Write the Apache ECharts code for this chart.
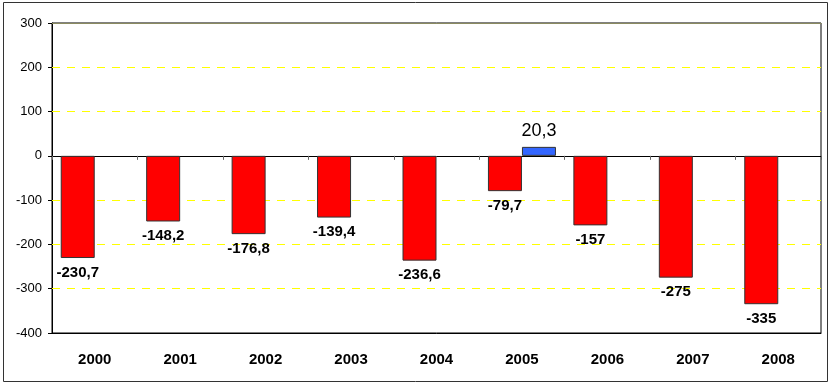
<!DOCTYPE html>
<html>
<head>
<meta charset="utf-8">
<script src="https://cdn.jsdelivr.net/npm/echarts@6/dist/echarts.min.js"></script>
<style>
html,body{margin:0;padding:0;background:#fff;}
#c{width:830px;height:384px;}
</style>
</head>
<body>
<div id="c"></div>
<script>
var categories = ['2000','2001','2002','2003','2004','2005','2006','2007','2008'];
var redValues = [-230.7, -148.2, -176.8, -139.4, -236.6, -79.7, -157, -275, -335];
var blueValues = [null, null, null, null, null, 20.3, null, null, null];
var yMin = -400, yMax = 300, yStep = 100;
var gridValues = [200, 100, -100, -200, -300];

var FONT = '"Liberation Sans", Arial, sans-serif';
function fmt(p){ return String(p.value).replace('.', ','); }

var chart = echarts.init(document.getElementById('c'), null, {renderer:'canvas'});
chart.setOption({
  animation: false,
  backgroundColor: '#fff',
  textStyle: {fontFamily: FONT},
  grid: {left: 52, right: 9, top: 23, bottom: 51, containLabel: false,
         show: true, borderColor: '#000', borderWidth: 1, backgroundColor: 'transparent'},
  graphic: [{
    type: 'rect', shape: {x: 3.5, y: 2.5, width: 824, height: 379},
    style: {fill: 'none', stroke: '#333', lineWidth: 1}, silent: true
  }],
  xAxis: [
    {
      type: 'category', data: categories, position: 'bottom',
      axisLine: {onZero: true, lineStyle: {color: '#000', width: 1}},
      axisTick: {show: true, interval: 0, length: 4, lineStyle: {color: '#666'}},
      axisLabel: {show: false},
      splitLine: {show: false}
    },
    {
      type: 'category', data: categories, position: 'bottom',
      axisLine: {onZero: false, lineStyle: {color: '#000', width: 1}},
      axisTick: {show: false},
      axisLabel: {show: true, interval: 0, margin: 19, color: '#000', fontSize: 15, fontWeight: 'bold', fontFamily: FONT},
      splitLine: {show: false}
    },
    {
      type: 'category', data: categories, position: 'top',
      axisLine: {onZero: false, lineStyle: {color: '#8a8a60', width: 1}},
      axisTick: {show: false},
      axisLabel: {show: false},
      splitLine: {show: false}
    }
  ],
  yAxis: [
    {
      type: 'value', min: yMin, max: yMax, interval: yStep, position: 'left',
      axisLine: {show: true, lineStyle: {color: '#000', width: 1}},
      axisTick: {show: true, length: 4, lineStyle: {color: '#000'}},
      axisLabel: {color: '#000', fontSize: 13, margin: 10, fontFamily: FONT},
      splitLine: {show: false}
    }
  ],
  series: [
    {
      type: 'bar', name: 'red', data: redValues, xAxisIndex: 0, yAxisIndex: 0,
      barWidth: 34, barGap: '0%', z: 3,
      itemStyle: {color: '#ff0000', borderColor: '#333', borderWidth: 1},
      label: {show: true, position: 'bottom', distance: 7, color: '#000', fontSize: 15, fontWeight: 'bold', fontFamily: FONT, formatter: fmt},
      markLine: {
        silent: true, symbol: ['none', 'none'], z: 1,
        label: {show: false},
        lineStyle: {color: '#ffff00', width: 1, type: [8, 7], opacity: 1},
        emphasis: {disabled: true},
        data: gridValues.map(function (v) { return {yAxis: v}; })
      }
    },
    {
      type: 'bar', name: 'blue', data: blueValues, xAxisIndex: 0, yAxisIndex: 0,
      barWidth: 34, barGap: '0%', z: 3,
      itemStyle: {color: '#3366ff', borderColor: '#333', borderWidth: 1},
      label: {show: true, position: 'top', distance: 7, color: '#000', fontSize: 18, fontFamily: FONT, formatter: fmt}
    }
  ]
});
</script>
</body>
</html>
